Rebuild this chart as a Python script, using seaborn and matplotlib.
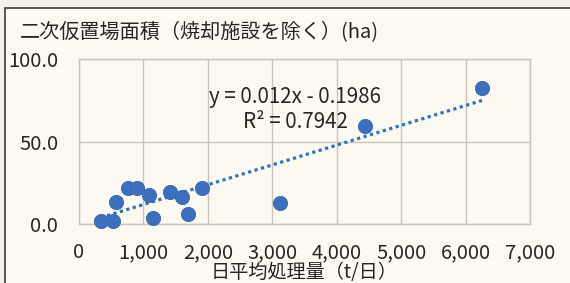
import numpy as np
import pandas as pd
import matplotlib
matplotlib.use("Agg")
import matplotlib.pyplot as plt
import seaborn as sns
from matplotlib.ticker import FuncFormatter
from matplotlib.patches import Rectangle

# data
throughput = [336, 533, 574, 753, 895, 1091, 1154, 1412, 1594, 1697, 1904, 3120, 4439, 6260]
area = [2.0, 2.0, 13.5, 21.6, 21.6, 17.6, 3.5, 19.6, 16.5, 5.9, 21.6, 12.9, 59.4, 82.2]
slope = 0.012
intercept = -0.1986
r2 = 0.7942
x_ticks = [0, 1000, 2000, 3000, 4000, 5000, 6000, 7000]
y_ticks = [0, 50, 100]
title = "二次仮置場面積（焼却施設を除く）(ha)"
xlabel = "日平均処理量（t/日）"

df = pd.DataFrame({"x": throughput, "y": area})

sns.set_style("white")
plt.rcParams["font.family"] = ["Noto Sans CJK JP", "DejaVu Sans"]

bg = "#FCF9F1"
grid_c = "#C9C5BD"
txt_c = "#262626"

fig = plt.figure(figsize=(5.7, 2.83), dpi=100)
fig.patch.set_facecolor("#F4F1EA")
fig.patches.append(Rectangle((5 / 570, -0.05), 1.0, 1 - 8 / 283 + 0.05,
                             transform=fig.transFigure, facecolor=bg,
                             edgecolor="#3A3A3A", linewidth=1.2, zorder=-5))

ax = fig.add_axes([79 / 570, 1 - 224 / 283, 451 / 570, 165 / 283])
ax.set_zorder(2)
ax.set_facecolor("none")

# trendline
tx = np.array([df["x"].min(), df["x"].max()])
ax.plot(tx, slope * tx + intercept, linestyle=(0, (1, 1.1)), linewidth=2.3,
        color="#2C74BE", zorder=2)

sns.scatterplot(data=df, x="x", y="y", ax=ax, s=105, color="#3D6FBF",
                edgecolor="#3566B5", linewidth=0.6, zorder=3, clip_on=False)

ax.set_xlim(0, 7000)
ax.set_ylim(0, 100)
ax.set_xticks(x_ticks)
ax.set_yticks(y_ticks)
ax.xaxis.set_major_formatter(FuncFormatter(lambda v, p: f"{int(v):,}"))
ax.yaxis.set_major_formatter(FuncFormatter(lambda v, p: f"{v:.1f}"))
ax.grid(True, color=grid_c, linewidth=1.0)
ax.set_axisbelow(True)
for s in ax.spines.values():
    s.set_color(grid_c)
    s.set_linewidth(1.0)
ax.tick_params(length=0, labelsize=14.5, colors=txt_c)
ax.tick_params(axis="y", pad=15)
ax.tick_params(axis="x", pad=13)
ax.set_xlabel(xlabel, fontsize=13.8, color=txt_c, labelpad=-1)
ax.set_ylabel("")

ax.text(0.479, 0.77, f"y = {slope}x - {abs(intercept)}", transform=ax.transAxes,
        ha="center", va="center", fontsize=14.8, color=txt_c)
ax.text(0.479, 0.618, f"R² = {r2}", transform=ax.transAxes,
        ha="center", va="center", fontsize=14.8, color=txt_c)

fig.text(20 / 570, 1 - 33 / 283, title, ha="left", va="center",
         fontsize=14.5, color=txt_c)

fig.savefig("out.png", dpi=100, facecolor=fig.get_facecolor())
